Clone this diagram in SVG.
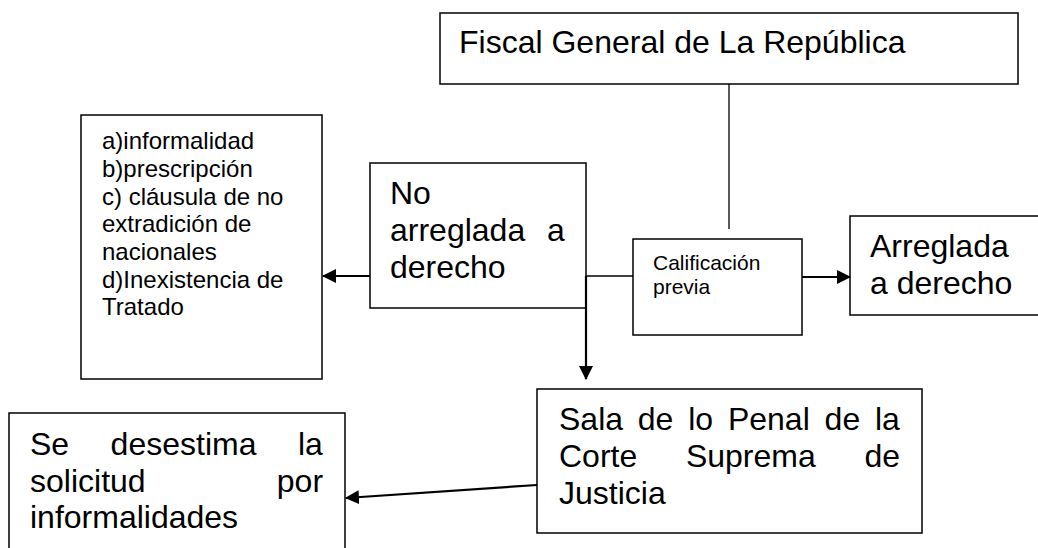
<svg xmlns="http://www.w3.org/2000/svg" width="1038" height="548" viewBox="0 0 1038 548">
<style>
.box{fill:#fff;stroke:#000;stroke-width:1.5}
.t32{font-family:"Liberation Sans",Arial,sans-serif;font-size:32px;fill:#000}
.t24{font-family:"Liberation Sans",Arial,sans-serif;font-size:24px;fill:#000}
.t21{font-family:"Liberation Sans",Arial,sans-serif;font-size:21px;fill:#000}
.thin{fill:none;stroke:#000;stroke-width:1.3}
.thick{fill:none;stroke:#000;stroke-width:2.2;marker-end:url(#ah)}
</style>
<defs>
<marker id="ah" viewBox="0 0 14 14" refX="13" refY="7" markerWidth="14" markerHeight="14" markerUnits="userSpaceOnUse" orient="auto">
<path d="M0,0 L14,7 L0,14 z" fill="#000"/>
</marker>
</defs>
<rect width="1038" height="548" fill="#fff"/>
<g id="fiscal">
<rect class="box" x="440" y="13" width="578" height="71"/>
<text class="t32" x="459" y="53">Fiscal General de La República</text>
</g>
<g id="lista">
<rect class="box" x="81" y="115" width="241" height="264"/>
<text class="t24" x="102" y="149">a)informalidad</text>
<text class="t24" x="102" y="177">b)prescripción</text>
<text class="t24" x="102" y="205">c) cláusula de no</text>
<text class="t24" x="102" y="232">extradición de</text>
<text class="t24" x="102" y="260">nacionales</text>
<text class="t24" x="102" y="288">d)Inexistencia de</text>
<text class="t24" x="102" y="315">Tratado</text>
</g>
<g id="no-arreglada">
<rect class="box" x="370" y="163" width="216" height="145"/>
<text class="t32" x="390" y="204">No</text>
<text class="t32" x="390" y="241">arreglada</text>
<text class="t32" x="547" y="241">a</text>
<text class="t32" x="390" y="278">derecho</text>
</g>
<g id="calificacion">
<rect class="box" x="633" y="239" width="169" height="96"/>
<text class="t21" x="653" y="270">Calificación</text>
<text class="t21" x="653" y="294">previa</text>
</g>
<g id="arreglada">
<rect class="box" x="850" y="216" width="200" height="99"/>
<text class="t32" x="870" y="257">Arreglada</text>
<text class="t32" x="870" y="294">a derecho</text>
</g>
<g id="sala">
<rect class="box" x="537" y="389" width="385" height="144"/>
<text class="t32" x="559" y="430">Sala</text>
<text class="t32" x="637.8" y="430">de</text>
<text class="t32" x="688.2" y="430">lo</text>
<text class="t32" x="727.9" y="430">Penal</text>
<text class="t32" x="824.6" y="430">de</text>
<text class="t32" x="875" y="430">la</text>
<text class="t32" x="559" y="467">Corte</text>
<text class="t32" x="685.9" y="467">Suprema</text>
<text class="t32" x="864.4" y="467">de</text>
<text class="t32" x="559" y="504">Justicia</text>
</g>
<g id="desestima">
<rect class="box" x="9" y="413" width="336" height="150"/>
<text class="t32" x="30" y="455">Se</text>
<text class="t32" x="110.6" y="455">desestima</text>
<text class="t32" x="298" y="455">la</text>
<text class="t32" x="30" y="492">solicitud</text>
<text class="t32" x="276.8" y="492">por</text>
<text class="t32" x="30" y="528">informalidades</text>
</g>
<g id="connectors">
<line class="thin" x1="729" y1="84" x2="729" y2="229"/>
<line class="thin" x1="586" y1="276" x2="633" y2="276"/>
<line class="thick" x1="586" y1="276" x2="586" y2="379"/>
<line class="thick" x1="370" y1="276" x2="323" y2="276"/>
<line class="thick" x1="802" y1="277" x2="850" y2="277"/>
<line class="thick" x1="537" y1="485" x2="346" y2="498"/>
</g>
</svg>
